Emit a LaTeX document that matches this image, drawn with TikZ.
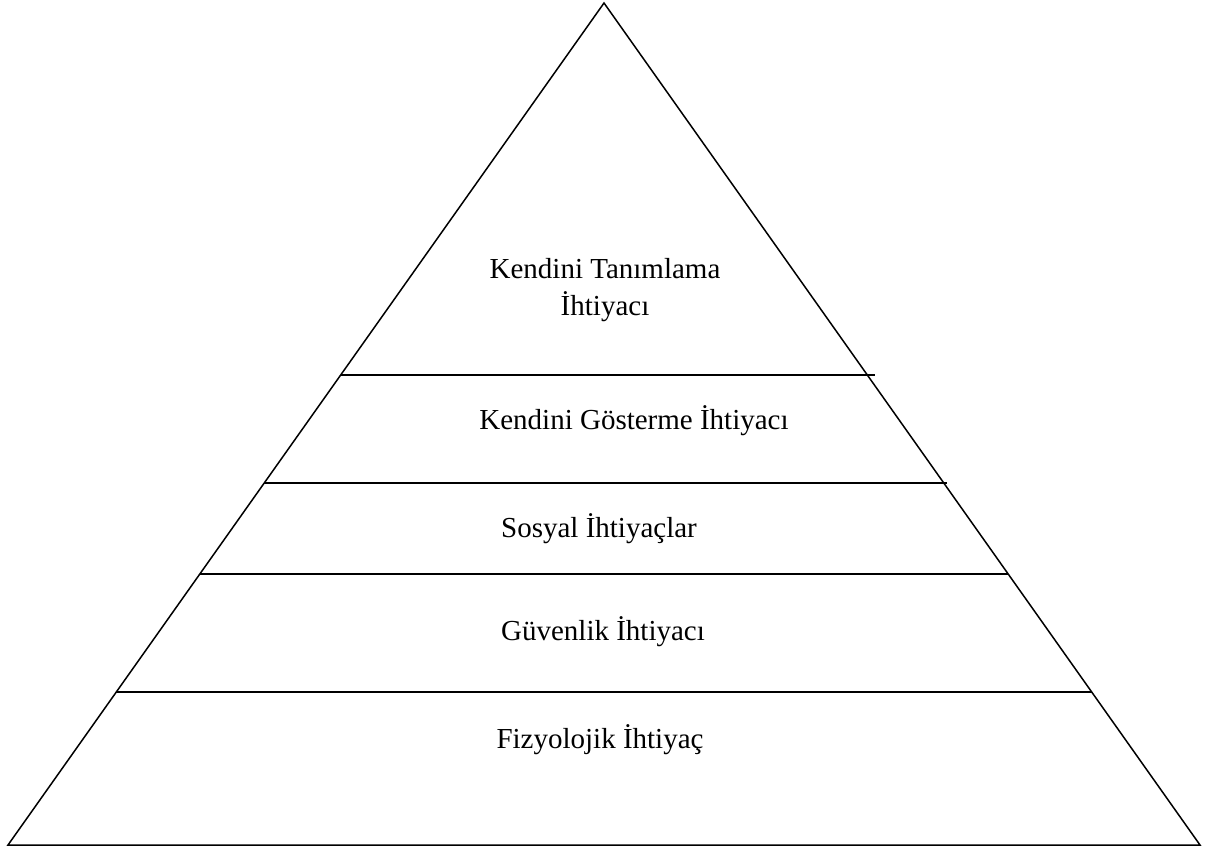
\documentclass[tikz,border=0pt]{standalone}
\usepackage{fontspec}
\setmainfont{Liberation Serif}
\begin{document}
\begin{tikzpicture}[x=1pt,y=-1pt,
  edge/.style={draw=black,line width=1.5pt,line join=miter},
  lbl/.style={font=\fontsize{29}{37}\selectfont,anchor=base,inner sep=0pt,align=center}]
\useasboundingbox (0,0) rectangle (1220,855);
\coordinate (apex) at (604,3);
\coordinate (bl) at (8,845);
\coordinate (br) at (1200,845);
\draw[edge] (apex) -- (bl) -- (br) -- cycle;
% dividing lines
\coordinate (l1a) at (340.7,375); \coordinate (l1b) at (875,375);
\coordinate (l2a) at (264.3,483); \coordinate (l2b) at (947,483);
\coordinate (l3a) at (199.8,574); \coordinate (l3b) at (1008,574);
\coordinate (l4a) at (116.3,692); \coordinate (l4b) at (1091.7,692);
\draw[edge] (l1a) -- (l1b);
\draw[edge] (l2a) -- (l2b);
\draw[edge] (l3a) -- (l3b);
\draw[edge] (l4a) -- (l4b);
% labels
\node[lbl] (t1) at (605,278) {Kendini Tanımlama};
\node[lbl] (t1b) at (605,315) {İhtiyacı};
\node[lbl] (t2) at (634,429) {Kendini Gösterme İhtiyacı};
\node[lbl] (t3) at (599,537) {Sosyal İhtiyaçlar};
\node[lbl] (t4) at (603,640) {Güvenlik İhtiyacı};
\node[lbl] (t5) at (600,748) {Fizyolojik İhtiyaç};
\end{tikzpicture}
\end{document}
